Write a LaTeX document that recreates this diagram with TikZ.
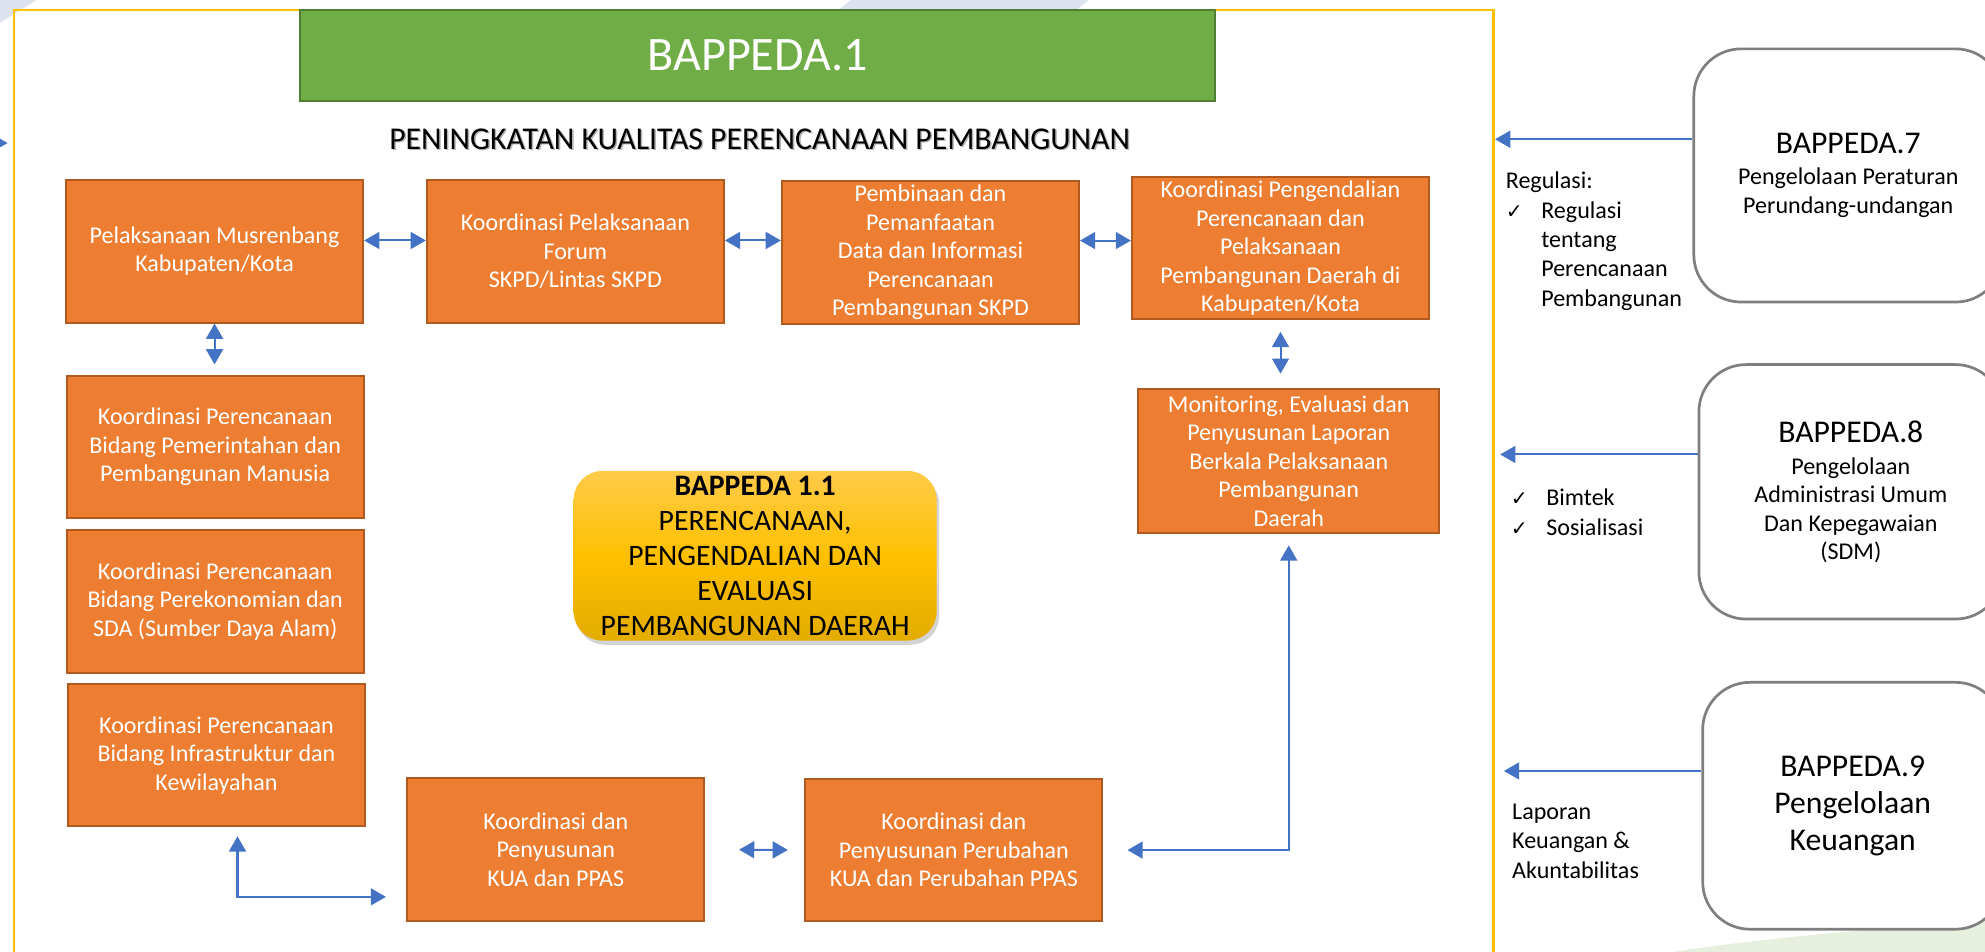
\documentclass[tikz,border=0pt]{standalone}
\usepackage{fontspec}
\setmainfont{Carlito}
\newfontfamily\symfont{DejaVu Sans}
\usetikzlibrary{arrows.meta,shadows}

\definecolor{boxfill}{HTML}{ED7D31}
\definecolor{boxedge}{HTML}{AE5A21}
\definecolor{headfill}{HTML}{70AD47}
\definecolor{headedge}{HTML}{507E32}
\definecolor{framegold}{HTML}{FFC000}
\definecolor{goldtop}{HTML}{FFCB4A}
\definecolor{goldbottom}{HTML}{E3AC00}
\definecolor{linkblue}{HTML}{4472C4}
\definecolor{unitedge}{HTML}{7F7F7F}
\definecolor{tintblue}{HTML}{DDE3EE}
\definecolor{tintgreen}{HTML}{E7F0DF}

\newcommand{\tickmark}{\makebox[21pt][l]{\symfont\fontsize{12}{12}\selectfont ✓}}

\tikzset{every picture/.style={line width=0.75pt}}
\tikzset{
	actbox/.style={draw=boxedge, fill=boxfill, line width=1.2pt, text=white, align=center, inner sep=1pt, minimum width=176pt, minimum height=84.5pt, font=\fontsize{14.25}{16.9}\selectfont},
	unitbox/.style={draw=unitedge, fill=white, line width=1.6pt, rounded corners=28pt, align=center, inner sep=1pt, font=\fontsize{14.25}{16.9}\selectfont},
	biarrow/.style={draw=linkblue, line width=1.2pt, {Triangle[length=9pt,width=10pt]}-{Triangle[length=9pt,width=10pt]}},
	onearrow/.style={draw=linkblue, line width=1.2pt, -{Triangle[length=9pt,width=10pt]}},
	sidenote/.style={align=left, inner sep=0pt, font=\fontsize{14.25}{17.4}\selectfont}
}

\begin{document}
\begin{tikzpicture}[x=0.75pt,y=0.75pt,yscale=-1,xscale=1]
	\clip (0,0) rectangle (1568,752);
	
	%Background tints
	\fill[tintblue] (0,0) -- (29,0) -- (0,18) -- cycle;
	\fill[tintblue] (672,0) -- (860,0) -- (850,8) -- (662,8) -- cycle;
	\fill[tintgreen] (1321,752) .. controls (1400,740) and (1480,734) .. (1568,727) -- (1568,752) -- cycle;
	
	%Shape: Frame
	\draw[framegold, line width=1.6pt] (11,8) rectangle (1180,780);
	
	%Header
	\node[draw=headedge, fill=headfill, line width=1.2pt, minimum width=542pt, minimum height=54pt, text=white, font=\fontsize{28.5}{33}\selectfont] (head) at (598.5,44) {BAPPEDA.1};
	\node[text=black!30, font=\fontsize{18.8}{22}\selectfont] (titleshade) at (601.2,111.2) {PENINGKATAN KUALITAS PERENCANAAN PEMBANGUNAN};
	\node[font=\fontsize{18.8}{22}\selectfont] (title) at (600,110) {PENINGKATAN KUALITAS PERENCANAAN PEMBANGUNAN};
	
	% Activity boxes
	\node[actbox] (b1) at (169.5,198.5) {Pelaksanaan Musrenbang\\Kabupaten/Kota};
	\node[actbox] (b2) at (454.5,198.5) {Koordinasi Pelaksanaan\\Forum\\SKPD/Lintas SKPD};
	\node[actbox] (b3) at (735,199.5) {Pembinaan dan\\Pemanfaatan\\Data dan Informasi\\Perencanaan\\Pembangunan SKPD};
	\node[actbox] (b4) at (1011.5,196) {Koordinasi Pengendalian\\Perencanaan dan\\Pelaksanaan\\Pembangunan Daerah di\\Kabupaten/Kota};
	\node[actbox] (b5) at (170,353) {Koordinasi Perencanaan\\Bidang Pemerintahan dan\\Pembangunan Manusia};
	\node[actbox] (b6) at (170,475) {Koordinasi Perencanaan\\Bidang Perekonomian dan\\SDA (Sumber Daya Alam)};
	\node[actbox] (b7) at (171,596.5) {Koordinasi Perencanaan\\Bidang Infrastruktur dan\\Kewilayahan};
	\node[actbox] (b8) at (439,671) {Koordinasi dan\\Penyusunan\\KUA dan PPAS};
	\node[actbox] (b9) at (753.5,671.5) {Koordinasi dan\\Penyusunan Perubahan\\KUA dan Perubahan PPAS};
	\node[actbox, minimum width=178.5pt, minimum height=85.5pt] (b10) at (1018,364) {Monitoring, Evaluasi dan\\Penyusunan Laporan\\Berkala Pelaksanaan\\Pembangunan\\Daerah};
	
	% Core box
	\node[rounded corners=17pt, top color=goldtop, bottom color=goldbottom, middle color=framegold, minimum width=215pt, minimum height=100.5pt, align=center, inner sep=0pt, font=\fontsize{17.6}{20.7}\selectfont, drop shadow={shadow xshift=1.5pt, shadow yshift=-2.5pt, opacity=0.35}] (core) at (596.5,439) {\textbf{BAPPEDA 1.1}\\PERENCANAAN,\\PENGENDALIAN DAN\\EVALUASI\\PEMBANGUNAN DAERAH};
	
	% Links between activities (yscale=-1: a negative yshift moves up)
	\draw[biarrow] ([yshift=-6.4pt]b1.east) -- ([yshift=-6.4pt]b1.east -| b2.west);
	\draw[biarrow] ([yshift=-6.4pt]b2.east) -- ([yshift=-6.4pt]b2.east -| b3.west);
	\draw[biarrow] ([yshift=-7.1pt]b3.east) -- ([yshift=-7.1pt]b3.east -| b4.west);
	\draw[biarrow, shorten >=6pt] (b1.south) -- (b1.south |- b5.north);
	\draw[biarrow, shorten <=6.75pt, shorten >=8.25pt] (b4.south) -- (b4.south |- b10.north);
	\draw[biarrow, shorten <=5.25pt, shorten >=12pt] ([xshift=12.45pt]b7.south) |- ([yshift=28.1pt]b8.west);
	\draw[biarrow, shorten <=20pt, shorten >=9.75pt] (b8.east) -- (b9.west);
	\draw[biarrow, shorten <=6.75pt, shorten >=14.25pt] (b10.south) |- (b9.east);
	
	% Supporting units
	\node[unitbox, minimum width=183pt, minimum height=150pt] (r7) at (1460,138.6) {{\fontsize{18.75}{22}\selectfont BAPPEDA.7}\\[1.5pt]Pengelolaan Peraturan\\Perundang-undangan};
	\node[unitbox, minimum width=180pt, minimum height=150.75pt] (r8) at (1462,388.5) {{\fontsize{18.75}{22}\selectfont BAPPEDA.8}\\[2pt]Pengelolaan\\Administrasi Umum\\Dan Kepegawaian\\(SDM)};
	\node[unitbox, minimum width=177.75pt, minimum height=146.25pt, font=\fontsize{18.75}{22}\selectfont] (r9) at (1463.5,636.5) {BAPPEDA.9\\Pengelolaan\\Keuangan};
	
	\coordinate (in7) at (1181,110);
	\coordinate (in8) at (1185,359);
	\coordinate (in9) at (1188,609);
	\draw[onearrow] (in7 -| r7.west) -- (in7);
	\draw[onearrow] (in8 -| r8.west) -- (in8);
	\draw[onearrow] (in9 -| r9.west) -- (in9);
	
	% Text Node
	\node[sidenote, anchor=west] (regnote) at (1189,190.5) {Regulasi:\\\tickmark Regulasi\\\hspace*{21pt}tentang\\\hspace*{21pt}Perencanaan\\\hspace*{21pt}Pembangunan};
	% Text Node
	\node[sidenote, anchor=west] (trainnote) at (1193,404.5) {\tickmark Bimtek\\\tickmark Sosialisasi};
	% Text Node
	\node[sidenote, anchor=west] (finnote) at (1194,664.5) {Laporan\\Keuangan \&\\Akuntabilitas};
	
	% Incoming link at left edge
	\coordinate (feedtail) at (-20,113);
	\coordinate (feedtip) at (6,113);
	\draw[onearrow] (feedtail) -- (feedtip);
	
\end{tikzpicture}
\end{document}
